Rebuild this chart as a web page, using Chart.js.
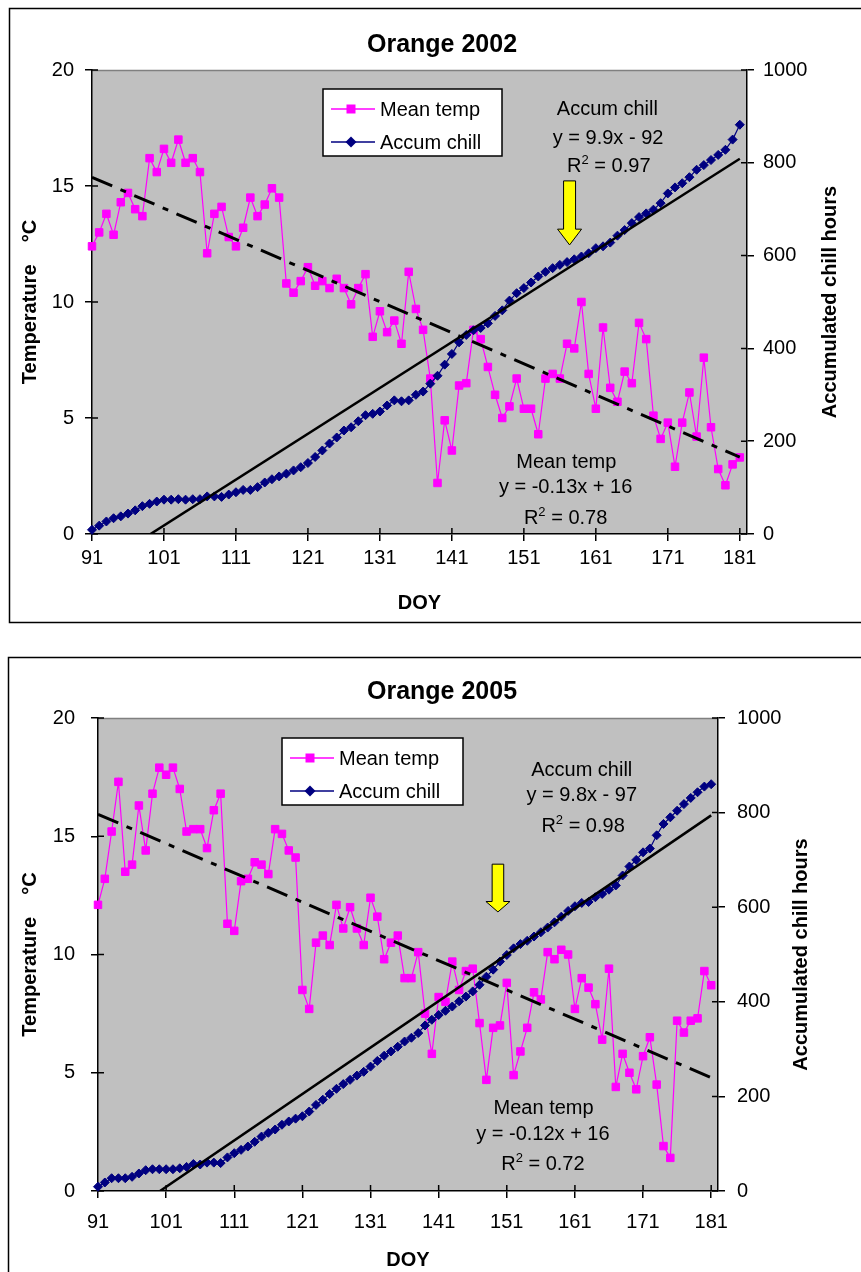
<!DOCTYPE html>
<html>
<head>
<meta charset="utf-8">
<title>Orange chill accumulation</title>
<script src="https://cdn.jsdelivr.net/npm/chart.js@4.4.1/dist/chart.umd.min.js"></script>
<style>
  body { margin: 0; background: #fff; overflow: hidden; }
  canvas { position: absolute; left: 0; }
  #c2002 { top: 0; }
  #c2005 { top: 640px; }
</style>
</head>
<body>
<canvas id="c2002" width="861" height="640"></canvas>
<canvas id="c2005" width="861" height="632"></canvas>
<script>
const FONT = 'Arial, "Liberation Sans", sans-serif';
const PINK = '#ff00ff';
const NAVY = '#000080';

const firstDay = 91;
const dayTicks = [91, 101, 111, 121, 131, 141, 151, 161, 171, 181];

// daily mean temperature (°C), DOY 91-181
const temp2002 = [
  12.4, 13.0, 13.8, 12.9, 14.3, 14.7, 14.0, 13.7, 16.2, 15.6,
  16.6, 16.0, 17.0, 16.0, 16.2, 15.6, 12.1, 13.8, 14.1, 12.8,
  12.4, 13.2, 14.5, 13.7, 14.2, 14.9, 14.5, 10.8, 10.4, 10.9,
  11.5, 10.7, 10.9, 10.6, 11.0, 10.6, 9.9, 10.6, 11.2, 8.5,
  9.6, 8.7, 9.2, 8.2, 11.3, 9.7, 8.8, 6.7, 2.2, 4.9,
  3.6, 6.4, 6.5, 8.8, 8.4, 7.2, 6.0, 5.0, 5.5, 6.7,
  5.4, 5.4, 4.3, 6.7, 6.9, 6.7, 8.2, 8.0, 10.0, 6.9,
  5.4, 8.9, 6.3, 5.7, 7.0, 6.5, 9.1, 8.4, 5.1, 4.1,
  4.8, 2.9, 4.8, 6.1, 4.2, 7.6, 4.6, 2.8, 2.1, 3.0,
  3.3
];
// accumulated chill hours, DOY 91-181
const chill2002 = [
  9, 18, 27, 34, 38, 44, 51, 60, 65, 70,
  74, 74, 75, 74, 75, 75, 81, 81, 80, 85,
  90, 95, 95, 101, 111, 118, 124, 130, 137, 144,
  153, 166, 180, 195, 208, 223, 230, 243, 256, 259,
  264, 277, 288, 286, 288, 300, 307, 324, 341, 365,
  388, 413, 429, 439, 444, 454, 470, 482, 503, 519,
  530, 542, 555, 565, 573, 580, 586, 592, 598, 605,
  616, 620, 628, 643, 655, 670, 683, 691, 699, 713,
  734, 747, 756, 769, 785, 795, 806, 817, 828, 850,
  882
];

const temp2005 = [
  12.1, 13.2, 15.2, 17.3, 13.5, 13.8, 16.3, 14.4, 16.8, 17.9,
  17.6, 17.9, 17.0, 15.2, 15.3, 15.3, 14.5, 16.1, 16.8, 11.3,
  11.0, 13.1, 13.2, 13.9, 13.8, 13.4, 15.3, 15.1, 14.4, 14.1,
  8.5, 7.7, 10.5, 10.8, 10.4, 12.1, 11.1, 12.0, 11.1, 10.4,
  12.4, 11.6, 9.8, 10.5, 10.8, 9.0, 9.0, 10.1, 7.5, 5.8,
  8.2, 8.0, 9.7, 8.5, 9.3, 9.4, 7.1, 4.7, 6.9, 7.0,
  8.8, 4.9, 5.9, 6.9, 8.4, 8.1, 10.1, 9.8, 10.2, 10.0,
  7.7, 9.0, 8.6, 7.9, 6.4, 9.4, 4.4, 5.8, 5.0, 4.3,
  5.7, 6.5, 4.5, 1.9, 1.4, 7.2, 6.7, 7.2, 7.3, 9.3,
  8.7
];
const chill2005 = [
  9, 18, 27, 27, 27, 30, 37, 44, 46, 46,
  46, 46, 48, 51, 57, 56, 60, 60, 59, 71,
  80, 87, 94, 104, 115, 123, 130, 140, 147, 153,
  158, 168, 182, 193, 205, 216, 226, 235, 244, 252,
  263, 275, 286, 295, 305, 316, 324, 334, 350, 362,
  372, 381, 390, 401, 411, 422, 436, 453, 468, 485,
  499, 513, 522, 529, 538, 547, 557, 568, 580, 592,
  602, 609, 611, 621, 628, 637, 646, 667, 686, 700,
  716, 724, 752, 776, 790, 804, 818, 831, 843, 855,
  860
];

function toPoints(values) {
  return values.map((v, i) => ({ x: firstDay + i, y: v }));
}

// least-squares line over the day index 1..n, as the spreadsheet trendline does
function trendLine(values) {
  const n = values.length;
  let sx = 0, sy = 0, sxx = 0, sxy = 0;
  values.forEach((v, i) => {
    const x = i + 1;
    sx += x; sy += v; sxx += x * x; sxy += x * v;
  });
  const slope = (n * sxy - sx * sy) / (n * sxx - sx * sx);
  const icpt = (sy - slope * sx) / n;
  return [
    { x: firstDay, y: slope + icpt },
    { x: firstDay + n - 1, y: slope * n + icpt }
  ];
}

const panels = [
  {
    canvas: 'c2002', title: 'Orange 2002', temp: temp2002, chill: chill2002,
    area: { left: 92, top: 70, right: 747, bottom: 534 },
    frame: { left: 9.5, top: 8.5, bottom: 622.5 },
    titleY: 45, xTickPad: 5, yTickPad: 11, y1TickPad: 9, doyPad: 25,
    legend: { dx: 231, dy: 19, w: 179, h: 67 },
    notes: [
      { text: 'Accum chill', day: 162.6, t: 18.35 },
      { text: 'y = 9.9x - 92', day: 162.7, t: 17.13 },
      { r2: '0.97', day: 162.8, t: 15.9 },
      { text: 'Mean temp', day: 156.9, t: 3.13 },
      { text: 'y = -0.13x + 16', day: 156.8, t: 2.05 },
      { r2: '0.78', day: 156.8, t: 0.72 }
    ],
    arrow: { day: 157.35, top: 761, base: 657, tip: 623, shaft: 12, head: 24 }
  },
  {
    canvas: 'c2005', title: 'Orange 2005', temp: temp2005, chill: chill2005,
    area: { left: 98, top: 78, right: 718, bottom: 551 },
    frame: { left: 8.5, top: 17.5, bottom: 700 },
    titleY: 52, xTickPad: 12, yTickPad: 16, y1TickPad: 12, doyPad: 0,
    legend: { dx: 184, dy: 20, w: 181, h: 67 },
    notes: [
      { text: 'Accum chill', day: 162.0, t: 17.84 },
      { text: 'y = 9.8x - 97', day: 162.0, t: 16.80 },
      { r2: '0.98', day: 162.2, t: 15.49 },
      { text: 'Mean temp', day: 156.4, t: 3.57 },
      { text: 'y = -0.12x + 16', day: 156.3, t: 2.44 },
      { r2: '0.72', day: 156.3, t: 1.17 }
    ],
    arrow: { day: 149.7, top: 691, base: 612, tip: 590, shaft: 11.6, head: 24 }
  }
];

function drawMarker(ctx, style, x, y, color) {
  ctx.fillStyle = color;
  ctx.beginPath();
  if (style === 'rect') {
    ctx.rect(x - 4.5, y - 4.5, 9, 9);
  } else {
    ctx.moveTo(x, y - 5.5); ctx.lineTo(x + 5.5, y); ctx.lineTo(x, y + 5.5); ctx.lineTo(x - 5.5, y);
    ctx.closePath();
  }
  ctx.fill();
}

function drawR2(ctx, value, cx, baseY) {
  const big = '20px ' + FONT, small = '13px ' + FONT;
  const rest = ' = ' + value;
  ctx.font = big;
  const wR = ctx.measureText('R').width, wRest = ctx.measureText(rest).width;
  ctx.font = small;
  const w2 = ctx.measureText('2').width;
  let x = cx - (wR + w2 + wRest) / 2;
  ctx.textAlign = 'left';
  ctx.font = big; ctx.fillText('R', x, baseY); x += wR;
  ctx.font = small; ctx.fillText('2', x, baseY - 8); x += w2;
  ctx.font = big; ctx.fillText(rest, x, baseY);
}

const decor = {
  id: 'decor',
  beforeDraw(chart, args, o) {
    const { ctx, chartArea: a } = chart;
    ctx.save();
    ctx.strokeStyle = '#000';
    ctx.lineWidth = 1.5;
    ctx.strokeRect(o.frame.left, o.frame.top, 1000, o.frame.bottom - o.frame.top);
    ctx.fillStyle = '#c0c0c0';
    ctx.fillRect(a.left, a.top, a.right - a.left, a.bottom - a.top);
    ctx.strokeStyle = '#808080';
    ctx.beginPath();
    ctx.moveTo(a.left, a.top + 0.5);
    ctx.lineTo(a.right, a.top + 0.5);
    ctx.stroke();
    ctx.restore();
  },
  beforeDatasetsDraw(chart) {
    // inner half of the crossing tick marks
    const { ctx, chartArea: a, scales } = chart;
    ctx.save();
    ctx.strokeStyle = '#000';
    ctx.lineWidth = 1.5;
    ctx.beginPath();
    scales.x.ticks.forEach(t => {
      const px = scales.x.getPixelForValue(t.value);
      ctx.moveTo(px, a.bottom); ctx.lineTo(px, a.bottom - 6);
    });
    scales.y.ticks.forEach(t => {
      const py = scales.y.getPixelForValue(t.value);
      ctx.moveTo(a.left, py); ctx.lineTo(a.left + 6, py);
    });
    scales.y1.ticks.forEach(t => {
      const py = scales.y1.getPixelForValue(t.value);
      ctx.moveTo(a.right, py); ctx.lineTo(a.right - 6, py);
    });
    ctx.stroke();
    ctx.restore();
  },
  afterDraw(chart, args, o) {
    const { ctx, chartArea: a, scales } = chart;
    ctx.save();
    ctx.fillStyle = '#000';

    // chart title
    ctx.font = 'bold 25px ' + FONT;
    ctx.textAlign = 'center';
    ctx.textBaseline = 'middle';
    ctx.fillText(o.title, 442, o.titleY);

    // right axis title, reading bottom to top
    ctx.save();
    ctx.translate(a.right + 83, (a.top + a.bottom) / 2);
    ctx.rotate(-Math.PI / 2);
    ctx.font = 'bold 20px ' + FONT;
    ctx.fillText('Accumulated chill hours', 0, 0);
    ctx.restore();

    // legend
    const lg = o.legend;
    const lx = a.left + lg.dx, ly = a.top + lg.dy;
    ctx.fillStyle = '#fff';
    ctx.fillRect(lx, ly, lg.w, lg.h);
    ctx.strokeStyle = '#000';
    ctx.lineWidth = 1.5;
    ctx.strokeRect(lx, ly, lg.w, lg.h);
    const rows = [
      { label: 'Mean temp', color: PINK, style: 'rect', dy: 20 },
      { label: 'Accum chill', color: NAVY, style: 'rectRot', dy: 53 }
    ];
    rows.forEach(r => {
      const ry = ly + r.dy;
      ctx.strokeStyle = r.color;
      ctx.lineWidth = 1.5;
      ctx.beginPath();
      ctx.moveTo(lx + 8, ry); ctx.lineTo(lx + 52, ry);
      ctx.stroke();
      drawMarker(ctx, r.style, lx + 28, ry, r.color);
      ctx.fillStyle = '#000';
      ctx.font = '20px ' + FONT;
      ctx.textAlign = 'left';
      ctx.textBaseline = 'middle';
      ctx.fillText(r.label, lx + 57, ry + 1);
    });

    // trendline equations
    ctx.textBaseline = 'alphabetic';
    ctx.fillStyle = '#000';
    o.notes.forEach(n => {
      const cx = scales.x.getPixelForValue(n.day);
      const by = scales.y.getPixelForValue(n.t) + 7;
      if (n.r2) {
        drawR2(ctx, n.r2, cx, by);
      } else {
        ctx.font = '20px ' + FONT;
        ctx.textAlign = 'center';
        ctx.fillText(n.text, cx, by);
      }
    });

    // yellow arrow pointing at the chill curve
    const ar = o.arrow;
    const ax = scales.x.getPixelForValue(ar.day);
    const yTop = scales.y1.getPixelForValue(ar.top);
    const yBase = scales.y1.getPixelForValue(ar.base);
    const yTip = scales.y1.getPixelForValue(ar.tip);
    ctx.beginPath();
    ctx.moveTo(ax - ar.shaft / 2, yTop);
    ctx.lineTo(ax + ar.shaft / 2, yTop);
    ctx.lineTo(ax + ar.shaft / 2, yBase);
    ctx.lineTo(ax + ar.head / 2, yBase);
    ctx.lineTo(ax, yTip);
    ctx.lineTo(ax - ar.head / 2, yBase);
    ctx.lineTo(ax - ar.shaft / 2, yBase);
    ctx.closePath();
    ctx.fillStyle = '#ffff00';
    ctx.fill();
    ctx.strokeStyle = '#000';
    ctx.lineWidth = 1;
    ctx.stroke();

    ctx.restore();
  }
};

function axisStyle(pad) {
  return {
    grid: { drawOnChartArea: false, color: '#000', tickLength: 7, lineWidth: 1.5 },
    border: { color: '#000', width: 1.5 },
    ticks: { color: '#000', font: { family: FONT, size: 20 }, padding: pad }
  };
}

panels.forEach(p => {
  const canvas = document.getElementById(p.canvas);
  const W = canvas.width, H = canvas.height;

  new Chart(canvas, {
    type: 'line',
    data: {
      datasets: [
        {
          label: 'Mean temp trend',
          data: trendLine(p.temp),
          yAxisID: 'y',
          borderColor: '#000',
          borderWidth: 3,
          borderDash: [22, 9, 6, 9],
          pointRadius: 0,
          order: 0
        },
        {
          label: 'Accum chill trend',
          data: trendLine(p.chill),
          yAxisID: 'y1',
          borderColor: '#000',
          borderWidth: 2.5,
          pointRadius: 0,
          order: 0
        },
        {
          label: 'Accum chill',
          data: toPoints(p.chill),
          yAxisID: 'y1',
          clip: false,
          borderColor: NAVY,
          backgroundColor: NAVY,
          borderWidth: 1.2,
          pointStyle: 'rectRot',
          pointRadius: 4.5,
          pointBorderWidth: 1,
          order: 1
        },
        {
          label: 'Mean temp',
          data: toPoints(p.temp),
          yAxisID: 'y',
          clip: false,
          borderColor: PINK,
          backgroundColor: PINK,
          borderWidth: 1.2,
          pointStyle: 'rect',
          pointRadius: 5.3,
          pointBorderWidth: 1,
          order: 2
        }
      ]
    },
    options: {
      responsive: false,
      animation: false,
      events: [],
      layout: { padding: { top: p.area.top, left: 0, right: 0, bottom: 0 } },
      elements: { line: { tension: 0 } },
      plugins: {
        legend: { display: false },
        tooltip: { enabled: false },
        decor: {
          title: p.title, titleY: p.titleY, frame: p.frame,
          legend: p.legend, notes: p.notes, arrow: p.arrow
        }
      },
      scales: {
        x: {
          type: 'linear',
          position: 'bottom',
          min: 91,
          max: 182,
          bounds: 'data',
          ...axisStyle(p.xTickPad),
          afterBuildTicks: s => { s.ticks = dayTicks.map(v => ({ value: v })); },
          afterFit: s => { s.height = H - p.area.bottom; },
          title: {
            display: true, text: 'DOY', color: '#000',
            font: { family: FONT, size: 20, weight: 'bold' },
            padding: { top: 0, bottom: p.doyPad }
          }
        },
        y: {
          position: 'left',
          min: 0,
          max: 20,
          ...axisStyle(p.yTickPad),
          afterFit: s => { s.width = p.area.left; },
          title: {
            display: true, text: 'Temperature    °C', color: '#000',
            font: { family: FONT, size: 20, weight: 'bold' },
            padding: { top: 18, bottom: 0 }
          }
        },
        y1: {
          position: 'right',
          min: 0,
          max: 1000,
          ...axisStyle(p.y1TickPad),
          afterFit: s => { s.width = W - p.area.right; }
        }
      }
    },
    plugins: [decor]
  });

  // stepped ticks and plain number labels
  const ch = Chart.getChart(canvas);
  ch.options.scales.x.ticks.callback = v => String(v);
  ch.options.scales.x.ticks.autoSkip = false;
  ch.options.scales.x.ticks.maxRotation = 0;
  ch.options.scales.y.ticks.stepSize = 5;
  ch.options.scales.y1.ticks.stepSize = 200;
  ch.options.scales.y1.ticks.callback = v => String(v);
  ch.update();
});
</script>
</body>
</html>
